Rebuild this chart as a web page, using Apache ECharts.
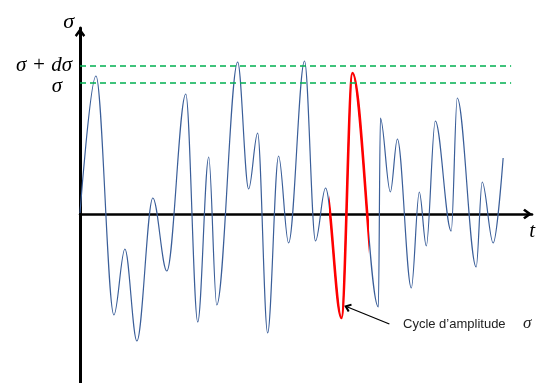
<!DOCTYPE html>
<html>
<head>
<meta charset="utf-8">
<script src="https://cdn.jsdelivr.net/npm/echarts@6/dist/echarts.min.js"></script>
<style>html,body{margin:0;padding:0;background:#fff;}#c{width:538px;height:383px;}</style>
</head>
<body>
<div id="c"></div>
<script>
// time values (t) and stress values (sigma)
const tValues = [0, 1.6, 3.4, 4.5, 5.7, 7.3, 8.7, 10.6, 11.8, 12.9, 13.7, 15.8, 16.9, 17.8, 18.8, 19.9, 20.9, 22.5, 23.6, 24.6, 26.2, 27.3, 29.9, 30.1, 31.1, 31.8, 33.2, 34.0, 34.7, 35.6, 37.2, 37.8, 39.7, 40.3, 41.4, 42.4];
const sigmaValues = [0.1, 13.8, -10.1, -3.5, -12.7, 1.6, -5.7, 12.0, -10.8, 5.7, -9.1, 15.2, 2.5, 8.1, -11.9, 5.8, -2.9, 15.3, -2.7, 2.6, -10.4, 14.1, -9.3, 9.6, 2.2, 7.5, -7.4, 2.2, -3.2, 9.3, -1.7, 11.6, -5.3, 3.2, -2.9, 5.6];
// threshold levels sigma and sigma + d sigma
const levelValues = [13.17, 14.83];
const levelLabels = ['σ', 'σ + dσ'];
const levelEnd = 43.2;
// highlighted cycle (t range)
const cycleRange = [25.0, 29.0];
// annotation arrow
const arrowFrom = [31.0, -11.0];
const arrowTo = [26.8, -9.3];
const annotationText = 'Cycle d’amplitude';

const data = tValues.map((t, i) => [t, sigmaValues[i]]);
const chevron = 'path://M5,0 L10,7 L8.3,8.6 L5,4.2 L1.7,8.6 L0,7 Z';
const serif = '"Liberation Serif", "DejaVu Serif", serif';

function levelLine(i, labelOffset) {
  return [
    {coord: [0, levelValues[i]], symbol: 'none',
     lineStyle: {color: '#00B050', type: [6, 4], width: 1.5},
     label: {show: true, position: 'start', distance: 8, formatter: levelLabels[i], offset: labelOffset,
             fontFamily: serif, fontStyle: 'italic', fontSize: 21, color: '#000'}},
    {coord: [levelEnd, levelValues[i]], symbol: 'none'}
  ];
}

const chart = echarts.init(document.getElementById('c'), null, {renderer: 'canvas'});
chart.setOption({
  animation: false,
  backgroundColor: '#fff',
  grid: {left: 80, right: 5, top: 28, bottom: 0},
  xAxis: {
    type: 'value', min: 0, max: 45.3,
    name: 't', nameLocation: 'end', nameGap: 0,
    nameTextStyle: {fontFamily: serif, fontStyle: 'italic', fontSize: 21, color: '#000', align: 'center', verticalAlign: 'top', padding: [7, 0, 0, 0]},
    axisLine: {onZero: true, lineStyle: {color: '#000', width: 2.5}, symbol: ['none', chevron], symbolSize: [11, 9], symbolOffset: [0, -4.5]},
    axisTick: {show: false}, axisLabel: {show: false}, splitLine: {show: false}
  },
  yAxis: {
    type: 'value', min: -16.9, max: 18.6,
    name: 'σ', nameLocation: 'end', nameGap: -5,
    nameTextStyle: {fontFamily: serif, fontStyle: 'italic', fontSize: 22, color: '#000', align: 'right', verticalAlign: 'bottom', padding: [0, 6, 0, 0]},
    axisLine: {onZero: false, lineStyle: {color: '#000', width: 3}, symbol: ['none', chevron], symbolSize: [11, 9], symbolOffset: [0, -4.5]},
    axisTick: {show: false}, splitLine: {show: false}, axisLabel: {show: false}
  },
  visualMap: {
    type: 'piecewise', show: false, seriesIndex: 1, dimension: 0,
    pieces: [
      {lt: cycleRange[0], color: 'rgba(0,0,0,0)'},
      {gte: cycleRange[0], lte: cycleRange[1], color: '#FF0000'},
      {gt: cycleRange[1], color: 'rgba(0,0,0,0)'}
    ]
  },
  series: [
    {
      type: 'line', data: data, showSymbol: false, smooth: 0.35, smoothMonotone: 'x',
      lineStyle: {color: '#3A5E99', width: 1.2}, silent: true, z: 2,
      markLine: {
        silent: true, animation: false, label: {show: false}, symbol: 'none',
        emphasis: {disabled: true},
        data: [
          levelLine(1, [0, 0]),
          levelLine(0, [-10, 4]),
          [{coord: arrowFrom, symbol: 'none', lineStyle: {color: '#000', type: 'solid', width: 1.3}, label: {show: false}}, {coord: arrowTo, symbol: chevron, symbolSize: [9, 7]}]
        ]
      }
    },
    {
      type: 'line', data: data, showSymbol: false, smooth: 0.35, smoothMonotone: 'x',
      lineStyle: {width: 2.6}, silent: true, z: 3
    }
  ],
  graphic: [
    {type: 'text', left: 403, top: 318, style: {text: annotationText, font: '13px "Liberation Sans", Arial, sans-serif', fill: '#222'}},
    {type: 'text', left: 523, top: 315, style: {text: 'σ', font: 'italic 17px "Liberation Serif", serif', fill: '#222'}}
  ]
});
</script>
</body>
</html>
